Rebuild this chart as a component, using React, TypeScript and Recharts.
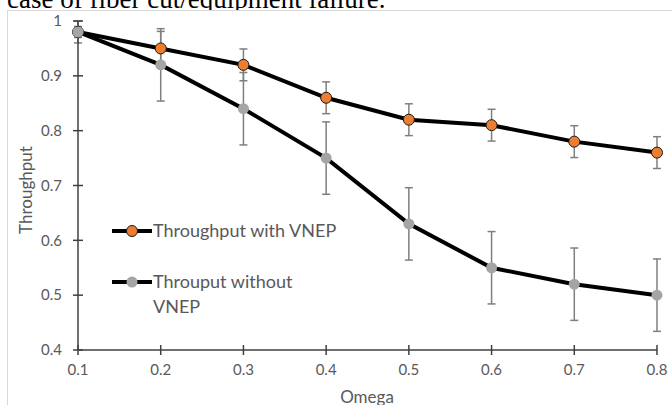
import { LineChart, Line, XAxis, YAxis, ErrorBar } from "recharts"

const omega = [0.1, 0.2, 0.3, 0.4, 0.5, 0.6, 0.7, 0.8]
const withVnep = [0.98, 0.95, 0.92, 0.86, 0.82, 0.81, 0.78, 0.76]
const withVnepErr = [0.02, 0.031, 0.029, 0.029, 0.029, 0.029, 0.029, 0.029]
const withoutVnep = [0.98, 0.92, 0.84, 0.75, 0.63, 0.55, 0.52, 0.5]
const withoutVnepErr = [0.01, 0.066, 0.066, 0.066, 0.066, 0.066, 0.066, 0.066]
const xTicks = [0.1, 0.2, 0.3, 0.4, 0.5, 0.6, 0.7, 0.8]
const yTicks = [0.4, 0.5, 0.6, 0.7, 0.8, 0.9, 1]

const data = omega.map((o, i) => ({
  omega: o,
  a: withVnep[i],
  aErr: withVnepErr[i],
  b: withoutVnep[i],
  bErr: withoutVnepErr[i],
}))

const FONT = "Lato, 'Open Sans', sans-serif"
const AXIS = "#404040"
const LABEL = "#595959"
const ORANGE = "#ED7D31"
const GRAY = "#A5A5A5"
const Y_MARGIN = 16
const X_MARGIN = 14

function YTick(props: any) {
  const { x, y, payload } = props
  const ax = x + Y_MARGIN
  return (
    <g>
      <line x1={ax - 5} x2={ax + 5} y1={y} y2={y} stroke={AXIS} strokeWidth={1.5} />
      <text x={x} y={y} dy="0.35em" textAnchor="end" fill={LABEL} fontSize={15} fontFamily={FONT}>
        {String(payload.value)}
      </text>
    </g>
  )
}

function XTick(props: any) {
  const { x, y, payload } = props
  const ay = y - X_MARGIN
  return (
    <g>
      <line x1={x} x2={x} y1={ay - 5} y2={ay + 5} stroke={AXIS} strokeWidth={1.5} />
      <text x={x} y={y} dy="0.71em" textAnchor="middle" fill={LABEL} fontSize={15} fontFamily={FONT}>
        {String(payload.value)}
      </text>
    </g>
  )
}

function LegendIcon({ fill, stroke }: { fill: string; stroke?: string }) {
  return (
    <svg width={40} height={14} style={{ display: "block", flex: "none" }}>
      <line x1={0} x2={40} y1={7} y2={7} stroke="#000" strokeWidth={4} />
      <circle cx={20} cy={7} r={5.5} fill={fill} stroke={stroke || "none"} strokeWidth={1} />
    </svg>
  )
}

function ChartLegend() {
  const text = { fontFamily: FONT, fontSize: 18, color: LABEL, lineHeight: "25px", marginLeft: 1 }
  return (
    <div style={{ position: "absolute", left: 112, top: 218, width: 260 }}>
      <div style={{ display: "flex", alignItems: "center", height: 25 }}>
        <LegendIcon fill={ORANGE} stroke="#1a1a1a" />
        <span style={text}>Throughput with VNEP</span>
      </div>
      <div style={{ display: "flex", alignItems: "flex-start", marginTop: 26 }}>
        <div style={{ height: 25, display: "flex", alignItems: "center" }}>
          <LegendIcon fill={GRAY} />
        </div>
        <span style={text}>
          Throuput without
          <br />
          VNEP
        </span>
      </div>
    </div>
  )
}

export default function App() {
  return (
    <div style={{ position: "fixed", left: 0, top: 0, width: 672, height: 405, background: "#fff", overflow: "hidden" }}>
      <div
        style={{
          position: "absolute",
          left: 7,
          top: -19,
          fontFamily: "'Liberation Serif', serif",
          fontSize: 27,
          lineHeight: "36px",
          color: "#000",
          whiteSpace: "nowrap",
        }}
      >
        case of fiber cut/equipment failure.
      </div>
      <div
        style={{
          position: "absolute",
          left: 7,
          top: 10,
          width: 680,
          height: 420,
          border: "1px solid #d9d9d9",
          background: "#fff",
        }}
      />
      <div style={{ position: "absolute", left: 0, top: 0 }}>
        <LineChart width={672} height={405} data={data} margin={{ top: 21, right: 15, left: 38, bottom: 25 }}>
          <XAxis
            dataKey="omega"
            type="number"
            domain={[0.1, 0.8]}
            ticks={xTicks}
            height={30}
            tickSize={0}
            tickMargin={X_MARGIN}
            tickLine={false}
            tick={<XTick />}
            axisLine={{ stroke: AXIS, strokeWidth: 1.5 }}
            interval={0}
          />
          <YAxis
            type="number"
            domain={[0.4, 1]}
            ticks={yTicks}
            width={40}
            tickSize={0}
            tickMargin={Y_MARGIN}
            tickLine={false}
            tick={<YTick />}
            axisLine={{ stroke: AXIS, strokeWidth: 1.5 }}
            interval={0}
          />
          <Line
            dataKey="a"
            stroke="#000"
            strokeWidth={4}
            isAnimationActive={false}
            dot={{ r: 5.5, fill: ORANGE, stroke: "#1a1a1a", strokeWidth: 1 }}
            activeDot={false}
          >
            <ErrorBar dataKey="aErr" width={4} stroke="#7f7f7f" strokeWidth={1.5} direction="y" />
          </Line>
          <Line
            dataKey="b"
            stroke="#000"
            strokeWidth={4}
            isAnimationActive={false}
            dot={{ r: 5.5, fill: GRAY, stroke: GRAY, strokeWidth: 0 }}
            activeDot={false}
          >
            <ErrorBar dataKey="bErr" width={4} stroke="#7f7f7f" strokeWidth={1.5} direction="y" />
          </Line>
        </LineChart>
      </div>
      <ChartLegend />
      <svg width={672} height={405} style={{ position: "absolute", left: 0, top: 0, pointerEvents: "none" }}>
        <text
          x={25}
          y={190}
          transform="rotate(-90 25 190)"
          textAnchor="middle"
          dominantBaseline="central"
          fill={LABEL}
          fontSize={17}
          fontFamily={FONT}
        >
          Throughput
        </text>
        <text x={367} y={396} textAnchor="middle" dominantBaseline="central" fill={LABEL} fontSize={17} fontFamily={FONT}>
          Omega
        </text>
      </svg>
    </div>
  )
}
